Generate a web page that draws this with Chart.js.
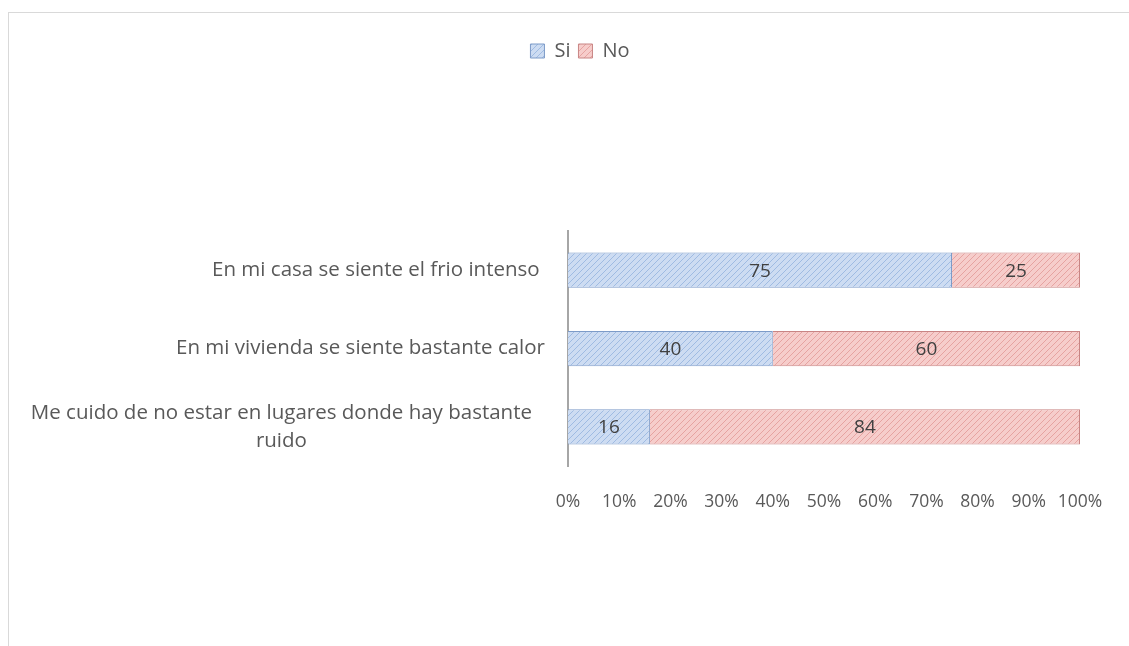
<!DOCTYPE html>
<html>
<head>
<meta charset="utf-8">
<script src="https://cdn.jsdelivr.net/npm/chart.js@4.4.0/dist/chart.umd.min.js"></script>
<style>
  body { margin: 0; background: #fff; overflow: hidden; }
  #frame { position: absolute; left: 8px; top: 12px; width: 1300px; height: 800px; border: 1px solid #d9d9d9; }
  #wrap { position: absolute; left: 0; top: 0; width: 1129px; height: 646px; }
</style>
</head>
<body>
<div id="frame"></div>
<div id="wrap"><canvas id="barChart" width="1129" height="646"></canvas></div>
<script>
// data
const categories = [
  "En mi casa se siente el frio intenso ",
  "En mi vivienda se siente bastante calor",
  ["Me cuido de no estar en lugares donde hay bastante", "ruido"]
];
const siValues = [75, 40, 16];
const noValues = [25, 60, 84];
const xTicks = [0, 10, 20, 30, 40, 50, 60, 70, 80, 90, 100];

const ct = document.getElementById("barChart").getContext("2d");

function makePattern(bg, fg) {
  const c = document.createElement("canvas");
  c.width = 6; c.height = 6;
  const x = c.getContext("2d");
  x.fillStyle = bg;
  x.fillRect(0, 0, 6, 6);
  x.strokeStyle = fg;
  x.lineWidth = 1;
  x.beginPath();
  x.moveTo(0, 6); x.lineTo(6, 0);
  x.moveTo(-1, 1); x.lineTo(1, -1);
  x.moveTo(5, 7); x.lineTo(7, 5);
  x.stroke();
  return ct.createPattern(c, "repeat");
}

const bluePat = makePattern("#cddcf2", "#9fbbe2");
const redPat = makePattern("#f6cdcb", "#e6a3a1");

const textColor = "#595959";
const fontFam = "'Open Sans', 'Liberation Sans', sans-serif";
const yFontSize = 20.5;
const yLineH = 1.35;

// numbers inside the bars
const barLabels = {
  id: "barLabels",
  afterDatasetsDraw(chart) {
    const c = chart.ctx;
    c.save();
    c.fillStyle = "#404040";
    c.font = "19px " + fontFam;
    c.textAlign = "center";
    c.textBaseline = "middle";
    chart.data.datasets.forEach((ds, i) => {
      chart.getDatasetMeta(i).data.forEach((bar, j) => {
        const mid = (bar.x + bar.base) / 2;
        c.fillText(ds.data[j], mid, bar.y + 1);
      });
    });
    c.restore();
  }
};

// multi-line category labels: lines centred on each other (like Excel)
const centredLabels = {
  id: "centredLabels",
  afterDraw(chart) {
    const sc = chart.scales.y;
    const c = chart.ctx;
    c.save();
    c.font = yFontSize + "px " + fontFam;
    c.fillStyle = textColor;
    c.textAlign = "center";
    c.textBaseline = "middle";
    categories.forEach((lab, i) => {
      if (!Array.isArray(lab)) return;
      const w = Math.max(...lab.map(s => c.measureText(s).width));
      const cx = sc.right - 36 - w / 2;
      const lh = yFontSize * yLineH;
      const y0 = sc.getPixelForTick(i) - (lab.length - 1) * lh / 2;
      lab.forEach((s, k) => c.fillText(s, cx, y0 + k * lh));
    });
    c.restore();
  }
};

// legend block is tall: plot starts well below it
const legendGap = {
  id: "legendGap",
  beforeInit(chart) {
    const fit = chart.legend.fit;
    chart.legend.fit = function () {
      fit.bind(chart.legend)();
      this.height = 198;
    };
  },
  afterLayout(chart) {
    chart.legend.left += 25;
    chart.legend.right += 25;
  }
};

Chart.defaults.font.family = fontFam;
Chart.defaults.color = textColor;

const chrt = new Chart(ct, {
  type: "bar",
  data: {
    labels: categories,
    datasets: [
      {
        label: "Si",
        data: siValues,
        backgroundColor: bluePat,
        borderColor: "#7d9bc8",
        borderWidth: 1,
        barPercentage: 0.9,
        categoryPercentage: 0.5
      },
      {
        label: "No",
        data: noValues,
        backgroundColor: redPat,
        borderColor: "#c88584",
        borderWidth: 1,
        barPercentage: 0.9,
        categoryPercentage: 0.5
      }
    ]
  },
  options: {
    responsive: false,
    animation: false,
    indexAxis: "y",
    layout: { padding: { top: 33, left: 30, right: 49, bottom: 0 } },
    plugins: {
      legend: {
        position: "top",
        labels: {
          boxWidth: 14,
          boxHeight: 14,
          padding: 8,
          font: { size: 20 },
          color: textColor
        }
      },
      tooltip: { enabled: false }
    },
    scales: {
      x: {
        stacked: true,
        min: 0,
        max: 100,
        afterBuildTicks(scale) {
          scale.ticks = xTicks.map(v => ({ value: v }));
        },
        afterFit(scale) { scale.height = 180; },
        ticks: {
          padding: 18,
          autoSkip: false,
          maxRotation: 0,
          minRotation: 0,
          font: { size: 17.5 },
          color: textColor,
          callback: v => v + "%"
        },
        grid: { display: false },
        border: { display: false }
      },
      y: {
        stacked: true,
        afterFit(scale) { scale.width = 538; },
        ticks: {
          padding: 15,
          font: { size: yFontSize, lineHeight: yLineH },
          color: ctx => Array.isArray(categories[ctx.index]) ? "rgba(0,0,0,0)" : textColor
        },
        grid: { display: false },
        border: { display: true, color: "#a6a6a6", width: 2 }
      }
    }
  },
  plugins: [barLabels, centredLabels, legendGap]
});
</script>
</body>
</html>
